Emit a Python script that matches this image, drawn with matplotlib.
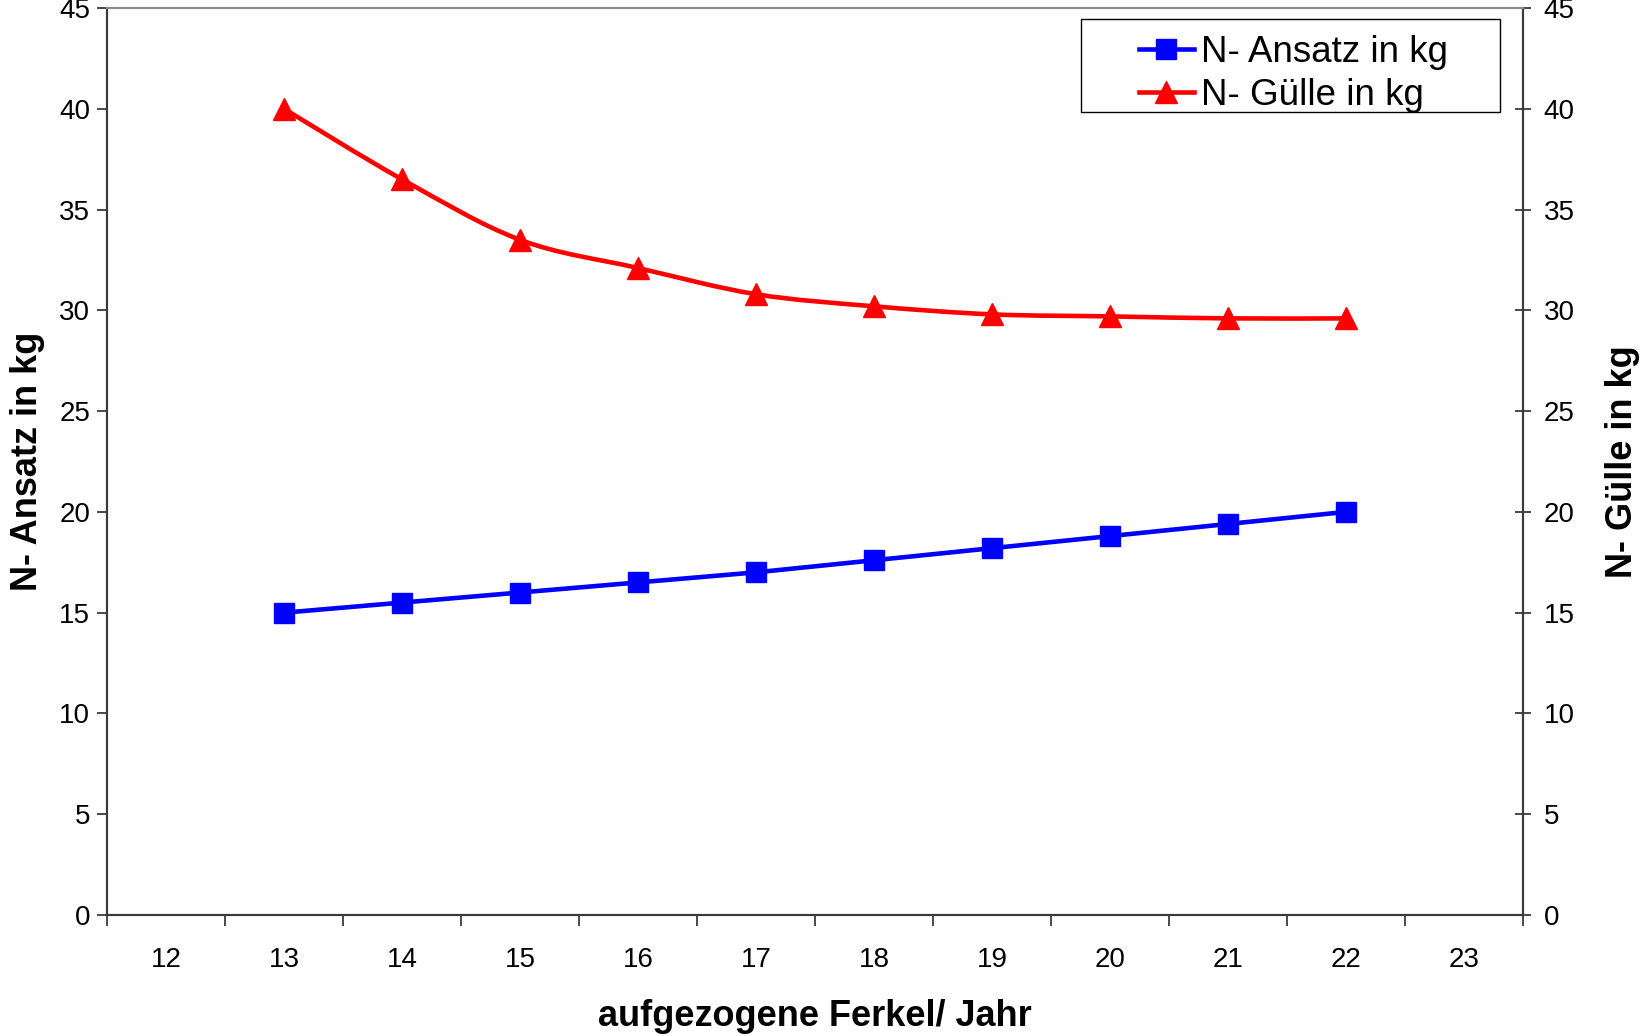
import numpy as np
import matplotlib
matplotlib.use('Agg')
import matplotlib.pyplot as plt
from matplotlib.path import Path
from matplotlib.patches import PathPatch, Rectangle
from matplotlib.lines import Line2D

plt.rcParams['font.family'] = ['Liberation Sans', 'DejaVu Sans']

# data
categories = [12, 13, 14, 15, 16, 17, 18, 19, 20, 21, 22, 23]
ferkel = [13, 14, 15, 16, 17, 18, 19, 20, 21, 22]
n_ansatz = [15.0, 15.5, 16.0, 16.5, 17.0, 17.6, 18.2, 18.8, 19.4, 20.0]
n_guelle = [40.0, 36.5, 33.5, 32.1, 30.8, 30.2, 29.8, 29.7, 29.6, 29.6]
y_ticks = [0, 5, 10, 15, 20, 25, 30, 35, 40, 45]


def smooth_path(xs, ys):
    # excel-like smoothed line: cubic bezier segments (catmull-rom style)
    pts = np.column_stack([xs, ys]).astype(float)
    verts = [pts[0]]
    codes = [Path.MOVETO]
    n = len(pts)
    for i in range(n - 1):
        p0 = pts[i - 1] if i > 0 else pts[i]
        p1 = pts[i]
        p2 = pts[i + 1]
        p3 = pts[i + 2] if i + 2 < n else pts[i + 1]
        c1 = p1 + (p2 - p0) / 6.0
        c2 = p2 - (p3 - p1) / 6.0
        verts += [c1, c2, p2]
        codes += [Path.CURVE4] * 3
    return Path(verts, codes)


fig = plt.figure(figsize=(16.41, 10.36), dpi=100)
ax = fig.add_axes([107 / 1641, 1 - 915 / 1036, 1416 / 1641, 907 / 1036])
ax2 = ax.twinx()

spine_col = '#3a3a3a'
for a in (ax, ax2):
    a.set_xlim(11.5, 23.5)
    a.set_ylim(0, 45)
    a.set_yticks(y_ticks)
    for s in a.spines.values():
        s.set_color(spine_col)
        s.set_linewidth(1.5)
    a.spines['top'].set_color('#8c8c8c')

# blue series, left axis
ax.plot(ferkel, n_ansatz, color='#0000ff', lw=3.3, marker='s', ms=14.5,
        markeredgecolor='#0000ff', zorder=3, clip_on=False)

# red series, right axis, smoothed
ax2.add_patch(PathPatch(smooth_path(ferkel, n_guelle), facecolor='none',
                        edgecolor='#ff0000', lw=3.3, capstyle='round', zorder=3))
ax2.plot(ferkel, n_guelle, ls='none', color='#ff0000', marker='^', ms=15.5,
         markeredgecolor='#ff0000', zorder=4, clip_on=False)

# category axis: ticks between categories, labels centered
ax.set_xticks(np.arange(11.5, 24.0, 1.0))
ax.set_xticklabels([])
ax.set_xticks(categories, minor=True)
ax.set_xticklabels([str(c) for c in categories], minor=True)
ax.tick_params(axis='x', which='major', direction='out', length=8, width=1.3, color=spine_col)
ax.tick_params(axis='x', which='minor', length=0, labelsize=20, pad=23)
ax.tick_params(axis='y', direction='out', length=7, width=1.3, color=spine_col, labelsize=20, pad=5)
ax2.tick_params(axis='y', direction='inout', length=12, width=1.3, color=spine_col, labelsize=20, pad=9)

ax.set_xlabel('aufgezogene Ferkel/ Jahr', fontsize=26, fontweight='bold', labelpad=19)
ax.set_ylabel('N- Ansatz in kg', fontsize=26, fontweight='bold', labelpad=10)
ax2.set_ylabel('N- Gülle in kg', fontsize=26, fontweight='bold', labelpad=22)

# legend with its own frame
x0, y0 = (1081 - 107) / 1416, (915 - 112) / 907
w, h = (1500 - 1081) / 1416, (112 - 19) / 907
ax2.add_patch(Rectangle((x0, y0), w, h, transform=ax2.transAxes, facecolor='white',
                        edgecolor='black', lw=1.0, zorder=5, clip_on=False))
handles = [
    Line2D([], [], color='#0000ff', lw=3.3, marker='s', ms=14.5),
    Line2D([], [], color='#ff0000', lw=3.3, marker='^', ms=15.5),
]
leg = ax2.legend(handles, ['N- Ansatz in kg', 'N- Gülle in kg'], loc='center',
                 bbox_to_anchor=(x0 + w / 2 + 0.002, y0 + h / 2 - 0.009), frameon=False,
                 fontsize=26.5, handlelength=1.5, handletextpad=0.2,
                 labelspacing=0.22, borderpad=0.0)
leg.set_zorder(6)

fig.savefig('out.png', dpi=100)
